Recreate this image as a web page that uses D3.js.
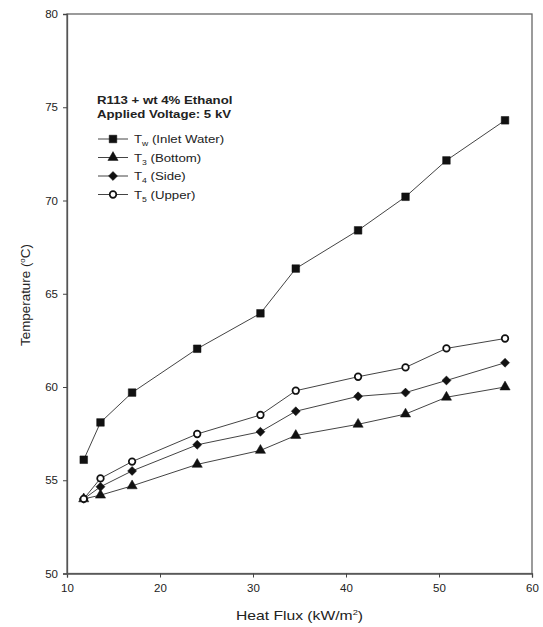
<!DOCTYPE html>
<html>
<head>
<meta charset="utf-8">
<script src="https://cdn.jsdelivr.net/npm/d3@7"></script>
<style>
  body { margin: 0; background: #fff; }
  text { font-family: "Liberation Sans", Arial, sans-serif; fill: #222; }
</style>
</head>
<body>
<svg></svg>
<script>
// heat flux (kW/m2)
let heatFlux = [11.8, 13.6, 17.0, 24.0, 30.8, 34.6, 41.3, 46.4, 50.8, 57.1];
// temperatures (deg C)
let tw = [56.1, 58.1, 59.7, 62.05, 63.95, 66.35, 68.4, 70.2, 72.15, 74.3];
let t3 = [54.0, 54.2, 54.7, 55.85, 56.6, 57.4, 58.0, 58.55, 59.45, 60.0];
let t4 = [54.0, 54.65, 55.5, 56.9, 57.6, 58.7, 59.5, 59.7, 60.35, 61.3];
let t5 = [54.0, 55.1, 56.0, 57.48, 58.5, 59.8, 60.55, 61.05, 62.07, 62.6];
let xTicks = [10, 20, 30, 40, 50, 60];
let yTicks = [50, 55, 60, 65, 70, 75, 80];

let series = [
    { name: "w", label: " (Inlet Water)", values: tw, symbol: "square" },
    { name: "3", label: " (Bottom)", values: t3, symbol: "triangle" },
    { name: "4", label: " (Side)", values: t4, symbol: "diamond" },
    { name: "5", label: " (Upper)", values: t5, symbol: "circle" }
];

drawChart();

function drawChart() {
    let svgWidth = 543, svgHeight = 627;
    let margin = { top: 14, right: 11, bottom: 53.5, left: 67 };
    let width = svgWidth - margin.left - margin.right;
    let height = svgHeight - margin.top - margin.bottom;

    let svg = d3.select("svg")
        .attr("width", svgWidth)
        .attr("height", svgHeight);

    let g = svg.append("g")
        .attr("transform", "translate(" + margin.left + "," + margin.top + ")");

    let x = d3.scaleLinear().domain([10, 60]).range([0, width]);
    let y = d3.scaleLinear().domain([50, 80]).range([height, 0]);

    // frame
    g.append("rect")
        .attr("width", width)
        .attr("height", height)
        .attr("fill", "none")
        .attr("stroke", "#666")
        .attr("stroke-width", 1.3);

    let xAxis = g.append("g")
        .attr("transform", "translate(0," + height + ")")
        .call(d3.axisBottom(x).tickValues(xTicks).tickSize(4).tickPadding(6));
    let yAxis = g.append("g")
        .call(d3.axisLeft(y).tickValues(yTicks).tickSize(4).tickPadding(5));

    [xAxis, yAxis].forEach(function (a) {
        a.select(".domain").attr("stroke", "#555").attr("stroke-width", 1.3);
        a.selectAll(".tick line").attr("stroke", "#444");
        a.selectAll(".tick text")
            .attr("font-size", 11.5)
            .attr("font-family", "Liberation Sans, Arial, sans-serif")
            .attr("fill", "#333");
    });

    // axis titles (the source picture is a little stretched sideways)
    let xt = svg.append("g")
        .attr("transform", "translate(" + (margin.left + width / 2) + ",620) scale(1.17,1)")
        .append("text")
        .attr("text-anchor", "middle")
        .attr("font-size", 13.4);
    xt.append("tspan").text("Heat Flux (kW/m");
    xt.append("tspan").attr("font-size", 8).attr("dy", -5).text("2");
    xt.append("tspan").attr("dy", 5).text(")");

    let yt = svg.append("text")
        .attr("transform", "translate(30,295) rotate(-90)")
        .attr("text-anchor", "middle")
        .attr("font-size", 13.4);
    yt.append("tspan").text("Temperature (");
    yt.append("tspan").attr("font-size", 8).attr("dy", -5).text("o");
    yt.append("tspan").attr("dy", 5).text("C)");

    let symbols = {
        square: d3.symbolSquare,
        triangle: d3.symbolTriangle,
        diamond: d3.symbolSquare,
        circle: d3.symbolCircle
    };
    let sizes = { square: 58, triangle: 45, diamond: 40, circle: 34 };
    let rotate = { square: 0, triangle: 0, diamond: 45, circle: 0 };

    function marker(sel, s) {
        sel.attr("d", d3.symbol().type(symbols[s.symbol]).size(sizes[s.symbol]))
            .attr("fill", s.symbol === "circle" ? "#fff" : "#111")
            .attr("stroke", "#111")
            .attr("stroke-width", s.symbol === "circle" ? 1.7 : 0.5);
    }

    let line = d3.line()
        .x(function (d, i) { return x(heatFlux[i]) })
        .y(function (d) { return y(d) });

    series.forEach(function (s) {
        g.append("path")
            .datum(s.values)
            .attr("fill", "none")
            .attr("stroke", "#444")
            .attr("stroke-width", 1)
            .attr("d", line);
    });

    series.forEach(function (s) {
        g.selectAll(".pt-" + s.name)
            .data(s.values)
            .enter().append("path")
            .attr("transform", function (d, i) {
                return "translate(" + x(heatFlux[i]) + "," + y(d) + ") rotate(" + rotate[s.symbol] + ")";
            })
            .call(marker, s);
    });

    // legend
    let lg = svg.append("g");
    lg.append("g").attr("transform", "translate(97,104) scale(1.15,1)")
        .append("text")
        .attr("font-size", 11.5).attr("font-weight", "bold")
        .text("R113 + wt 4% Ethanol");
    lg.append("g").attr("transform", "translate(97,118) scale(1.15,1)")
        .append("text")
        .attr("font-size", 11.5).attr("font-weight", "bold")
        .text("Applied Voltage: 5 kV");

    series.forEach(function (s, i) {
        let yy = 139 + i * 18.5;
        lg.append("line")
            .attr("x1", 98).attr("x2", 128)
            .attr("y1", yy).attr("y2", yy)
            .attr("stroke", "#444").attr("stroke-width", 1);
        lg.append("path")
            .attr("transform", "translate(113," + yy + ") rotate(" + rotate[s.symbol] + ")")
            .call(marker, s);
        let t = lg.append("g")
            .attr("transform", "translate(134," + (yy + 4) + ") scale(1.15,1)")
            .append("text")
            .attr("font-size", 11.5);
        t.append("tspan").text("T");
        t.append("tspan").attr("font-size", 7.5).attr("dy", 3).text(s.name);
        t.append("tspan").attr("dy", -3).text(s.label);
    });
}
</script>
</body>
</html>
